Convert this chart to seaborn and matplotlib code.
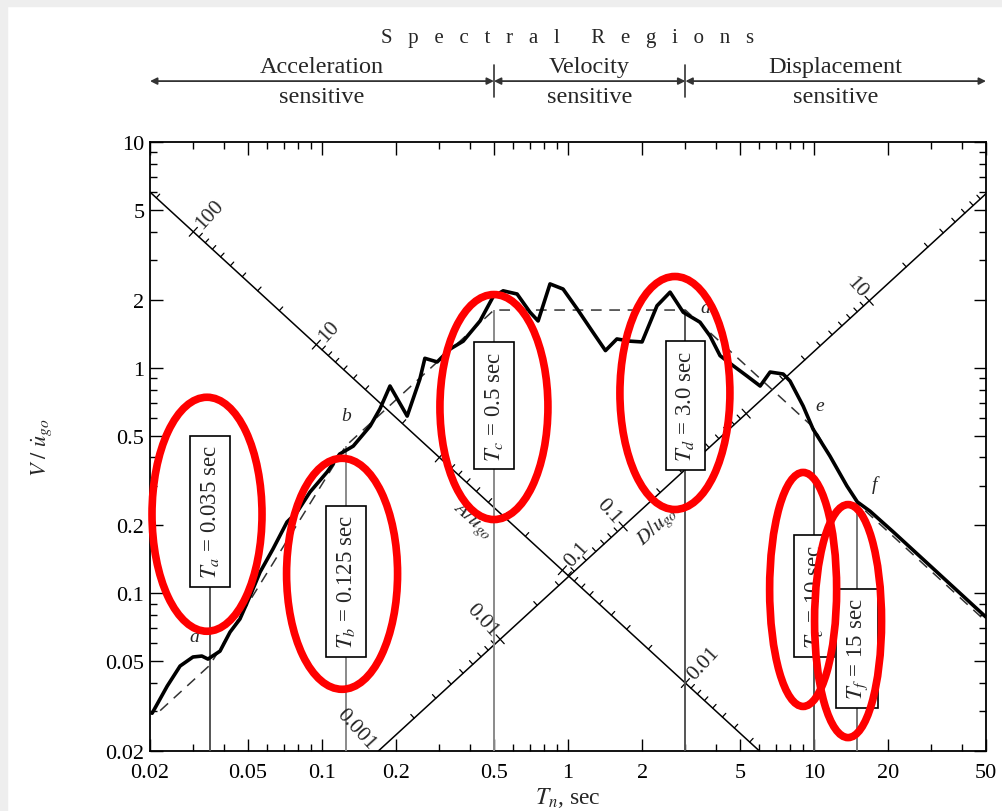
import numpy as np
import matplotlib
matplotlib.use("Agg")
import matplotlib.pyplot as plt
import matplotlib.transforms as mtransforms
from matplotlib.patches import Ellipse, Rectangle
import seaborn as sns

# response spectrum
period = [0.0204, 0.0235, 0.0265, 0.0299, 0.0325, 0.0344, 0.0385, 0.0423, 0.0464,
          0.0510, 0.0560, 0.0632, 0.0721, 0.0792, 0.0894, 0.105, 0.118, 0.134,
          0.157, 0.172, 0.189, 0.222, 0.250, 0.262, 0.294, 0.332, 0.375, 0.439,
          0.496, 0.545, 0.621, 0.701, 0.756, 0.845, 0.955, 1.09, 1.26, 1.42,
          1.58, 1.79, 2.00, 2.30, 2.60, 2.94, 3.44, 3.78, 4.15, 4.69, 5.34,
          6.04, 6.63, 7.49, 7.99, 9.03, 9.91, 11.6, 13.6, 15.0, 16.9, 21.0, 50.0]
vel = [0.0294, 0.0388, 0.0476, 0.0522, 0.0527, 0.0511, 0.0554, 0.0673, 0.0769,
       0.0972, 0.124, 0.157, 0.207, 0.229, 0.281, 0.345, 0.414, 0.449,
       0.551, 0.656, 0.829, 0.610, 0.890, 1.10, 1.06, 1.21, 1.31, 1.61,
       2.06, 2.19, 2.12, 1.76, 1.61, 2.35, 2.23, 1.82, 1.44, 1.19,
       1.34, 1.31, 1.30, 1.88, 2.16, 1.76, 1.59, 1.38, 1.13, 1.02, 0.918,
       0.829, 0.956, 0.937, 0.872, 0.676, 0.534, 0.406, 0.299, 0.254, 0.231, 0.187, 0.0784]

# idealized spectrum
ideal_T = [0.022, 0.035, 0.125, 0.5, 3.0, 10, 15, 50]
ideal_V = [0.0302, 0.048, 0.45, 1.8, 1.8, 0.54, 0.25, 0.075]
corner_names = ["a", "b", "d", "e", "f"]
corner_idx = [1, 2, 4, 5, 6]
corner_off = [(-11, 21), (0, 22), (14, 2), (4, 16), (12, 14)]

# period markers
t_marks = [0.035, 0.125, 0.5, 3.0, 10, 15]
t_subs = ["a", "b", "c", "d", "e", "f"]
t_text = ["0.035", "0.125", "0.5", "3.0", "10", "15"]
t_line_top = [0.11, 0.45, 1.8, 1.8, 0.54, 0.25]
t_line_col = ['#555555', '#8a8a8a', '#8a8a8a', '#555555', '#555555', '#777777']
box_V = [0.231, 0.113, 0.679, 0.68, 0.097, 0.057]

# red ellipses (center in data, size in pixels)
ell_T = [0.0341, 0.1207, 0.5, 2.72, 9.03, 13.75]
ell_V = [0.224, 0.122, 0.669, 0.772, 0.104, 0.0753]
ell_w = [110, 111, 108, 110, 67, 67]
ell_h = [234, 231, 225, 233, 234, 233]

# diagonal axes
acc_c = 0.12        # V*T along the A axis line
acc_k = 0.09        # A = acc_k / T^2 on that line
acc_labels = [100, 10, 0.1, 0.01]
disp_c = 0.118      # V/T along the D axis line
disp_k = 0.0356     # D = disp_k * T^2 on that line
disp_labels = [0.001, 0.01, 0.1, 10]

regions = ["Acceleration", "Velocity", "Displacement"]
region_edges = [0.02, 0.5, 3.0, 50]

xticks = [0.02, 0.05, 0.1, 0.2, 0.5, 1, 2, 5, 10, 20, 50]
xtick_labels = ["0.02", "0.05", "0.1", "0.2", "0.5", "1", "2", "5", "10", "20", "50"]
yticks = [0.02, 0.05, 0.1, 0.2, 0.5, 1, 2, 5, 10]
ytick_labels = ["0.02", "0.05", "0.1", "0.2", "0.5", "1", "2", "5", "10"]

sns.set_theme(style="ticks")
plt.rcParams['font.family'] = ['Liberation Serif', 'DejaVu Serif']
plt.rcParams['mathtext.fontset'] = 'stix'

fig = plt.figure(figsize=(10.02, 8.12), dpi=100)
fig.patches.append(Rectangle((0, 1 - 7 / 812), 1, 7 / 812, transform=fig.transFigure,
                             color='#eeeeee', zorder=0))
fig.patches.append(Rectangle((0, 0), 7 / 1002, 1, transform=fig.transFigure,
                             color='#eeeeee', zorder=0))
ax = fig.add_axes([150 / 1002, 60 / 812, 836 / 1002, 609 / 812])

sns.lineplot(x=period, y=vel, ax=ax, color='black', linewidth=2.6,
             estimator=None, sort=False, legend=False, zorder=5)
ax.plot(ideal_T, ideal_V, color='#333333', lw=1.1, dashes=(7, 5), zorder=4)

ax.set_xscale('log')
ax.set_yscale('log')
ax.set_xlim(0.02, 50)
ax.set_ylim(0.02, 10)
ax.set_xticks(xticks, xtick_labels)
ax.set_yticks(yticks, ytick_labels)
ax.xaxis.set_minor_locator(matplotlib.ticker.LogLocator(subs=np.arange(2, 10)))
ax.yaxis.set_minor_locator(matplotlib.ticker.LogLocator(subs=np.arange(2, 10)))
ax.xaxis.set_minor_formatter(matplotlib.ticker.NullFormatter())
ax.yaxis.set_minor_formatter(matplotlib.ticker.NullFormatter())
ax.tick_params(which='both', direction='in', top=True, right=True, labelsize=16,
               colors='black', width=1)
ax.tick_params(which='major', length=9)
ax.tick_params(which='minor', length=5)
ax.tick_params(axis='x', which='major', pad=9)
ax.tick_params(axis='y', which='major', pad=4)
for s in ax.spines.values():
    s.set_color('black')
    s.set_linewidth(1.3)
ax.set_xlabel(r"$T_n$, sec", fontsize=17, labelpad=2)
ax.set_ylabel(r"$V\ /\ \dot{u}_{go}$", fontsize=16, labelpad=36)

# vertical period lines and label boxes
ax.vlines(t_marks, 0.02, t_line_top, colors=t_line_col, lw=1.4, zorder=3)
for t, s, txt, v in zip(t_marks, t_subs, t_text, box_V):
    ax.text(t, v, rf"$T_{s}$ = {txt} sec", rotation=90, ha='center', va='center',
            fontsize=16.5, zorder=6,
            bbox=dict(boxstyle='square,pad=0.38', fc='white', ec='black', lw=1.2))

for name, i, off in zip(corner_names, corner_idx, corner_off):
    ax.annotate(name, (ideal_T[i], ideal_V[i]), xytext=off, textcoords='offset points',
                ha='center', va='center', fontsize=14, style='italic')

# diagonal A and D axes
to_px = ax.transData.transform
to_data = ax.transData.inverted().transform

ax.plot([0.02, acc_c / 0.02], [acc_c / 0.02, 0.02], color='black', lw=1.1, zorder=2)
ax.plot([0.02 / disp_c, 50], [0.02, disp_c * 50], color='black', lw=1.1, zorder=2)

pa = to_px([(0.1, acc_c / 0.1), (1, acc_c)])
ang_a = np.degrees(np.arctan2(pa[1, 1] - pa[0, 1], pa[1, 0] - pa[0, 0]))
pd_ = to_px([(0.1, disp_c * 0.1), (1, disp_c)])
ang_d = np.degrees(np.arctan2(pd_[1, 1] - pd_[0, 1], pd_[1, 0] - pd_[0, 0]))
n_a = np.array([np.cos(np.radians(ang_a + 90)), np.sin(np.radians(ang_a + 90))])
n_d = np.array([np.cos(np.radians(ang_d + 90)), np.sin(np.radians(ang_d + 90))])

for k in range(-3, 3):
    for m in range(1, 10):
        val = m * 10.0 ** k
        t = np.sqrt(acc_k / val)
        if 0.02 <= t <= acc_c / 0.02:
            p = to_px((t, acc_c / t))
            seg = [p - n_a * 6, p + n_a * 6] if m == 1 else [p, p + n_a * 5]
            seg = to_data(seg)
            ax.plot(seg[:, 0], seg[:, 1], color='black', lw=0.9, zorder=2)
        t = np.sqrt(val / disp_k)
        if 0.02 / disp_c <= t <= 50:
            p = to_px((t, disp_c * t))
            seg = [p - n_d * 6, p + n_d * 6] if m == 1 else [p, p + n_d * 5]
            seg = to_data(seg)
            ax.plot(seg[:, 0], seg[:, 1], color='black', lw=0.9, zorder=2)

for val in acc_labels:
    t = np.sqrt(acc_k / val)
    p = to_data(to_px((t, acc_c / t)) + n_a * 8)
    ax.text(p[0], p[1], f"{val:g}", rotation=ang_a + 90, rotation_mode='anchor',
            ha='left', va='center', fontsize=15.5)
for val in disp_labels:
    t = np.sqrt(val / disp_k)
    p = to_data(to_px((t, disp_c * t)) + n_d * 8)
    ax.text(p[0], p[1], f"{val:g}", rotation=ang_d - 90, rotation_mode='anchor',
            ha='right', va='center', fontsize=15.5)
ax.text(0.41, 0.213, r"$A/\ddot{u}_{go}$", rotation=ang_a, ha='center', va='center',
        fontsize=15)
ax.text(2.30, 0.1985, r"$D/u_{go}$", rotation=ang_d, ha='center', va='center',
        fontsize=15)

# red ellipses
ax_w, ax_h = 836, 609
for t, v, w, h in zip(ell_T, ell_V, ell_w, ell_h):
    c = ax.transAxes.inverted().transform(to_px((t, v)))
    ax.add_patch(Ellipse(c, w / ax_w, h / ax_h, transform=ax.transAxes, fill=False,
                         ec='#ff0000', lw=5.5, zorder=10, clip_on=False))

# spectral regions header
trans = mtransforms.blended_transform_factory(ax.transData, ax.transAxes)
for lo, hi, name in zip(region_edges[:-1], region_edges[1:], regions):
    ax.annotate("", xy=(hi, 1.100), xytext=(lo, 1.100), xycoords=trans, textcoords=trans,
                arrowprops=dict(arrowstyle='<|-|>', color='#333333', lw=1.3,
                                mutation_scale=10, shrinkA=0, shrinkB=0))
    mid = np.sqrt(lo * hi)
    ax.text(mid, 1.106, name, transform=trans, ha='center', va='bottom', fontsize=17.5)
    ax.text(mid, 1.092, "sensitive", transform=trans, ha='center', va='top', fontsize=17.5)
for t in region_edges[1:-1]:
    ax.plot([t, t], [1.074, 1.126], transform=trans, color='#333333', lw=1.2, clip_on=False)
ax.text(0.5, 1.172, "S   p   e   c   t   r   a   l      R   e   g   i   o   n   s",
        transform=ax.transAxes, ha='center', va='center', fontsize=15)

fig.savefig("out.png", dpi=100)
